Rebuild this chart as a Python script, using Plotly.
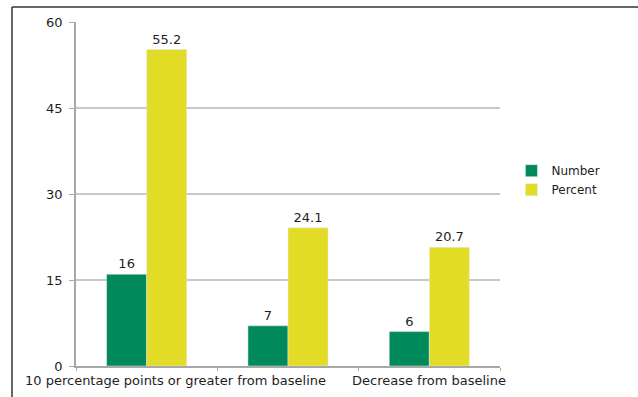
import plotly.graph_objects as go

# Outcome groups, series values and axis ticks
categories = ["10 percentage points or greater from baseline",
              "Less than 10 percentage points from baseline",
              "Decrease from baseline"]
axis_labels = ["10 percentage points or greater from baseline", "", "Decrease from baseline"]
number_vals = [16, 7, 6]
percent_vals = [55.2, 24.1, 20.7]
y_ticks = [0, 15, 30, 45, 60]

GREEN = "#00895A"
YELLOW = "#E3DC26"
FONT = "DejaVu Sans"
TEXT = "#1E1E1E"

fig = go.Figure()
fig.add_trace(go.Bar(
    name="Number", x=categories, y=number_vals, marker_color=GREEN,
    text=[str(v) for v in number_vals], textposition="outside",
    textfont=dict(family=FONT, size=13, color=TEXT), cliponaxis=False,
))
fig.add_trace(go.Bar(
    name="Percent", x=categories, y=percent_vals, marker_color=YELLOW,
    text=[f"{v:.1f}" for v in percent_vals], textposition="outside",
    textfont=dict(family=FONT, size=13, color=TEXT), cliponaxis=False,
))

# Category captions under the axis (first caption sits right of its group)
label_shift = [29, 0, 0]
for cat, lab, dx in zip(categories, axis_labels, label_shift):
    if lab:
        fig.add_annotation(
            x=cat, xref="x", y=0, yref="paper", yanchor="top", yshift=-5,
            xshift=dx, text=lab, showarrow=False,
            font=dict(family=FONT, size=13, color=TEXT),
        )

# Outer frame: left and top edges only
fig.add_shape(type="line", xref="paper", yref="paper",
              x0=-0.151, x1=-0.151, y0=1.0436, y1=-0.12,
              line=dict(color="#333333", width=1.5))
fig.add_shape(type="line", xref="paper", yref="paper",
              x0=-0.151, x1=1.4, y0=1.0436, y1=1.0436,
              line=dict(color="#333333", width=1.5))

fig.update_layout(
    width=638, height=397,
    margin=dict(l=76, r=138, t=22, b=31),
    paper_bgcolor="white", plot_bgcolor="white",
    barmode="group", bargap=0.433, bargroupgap=0,
    font=dict(family=FONT, size=13, color=TEXT),
    legend=dict(x=1.027, y=0.61, xanchor="left", yanchor="top",
                font=dict(family=FONT, size=12, color=TEXT),
                tracegroupgap=0, itemwidth=30),
    showlegend=True,
)
fig.update_xaxes(
    type="category", range=[-0.5, 2.5], showticklabels=False,
    showline=True, linecolor="#A8A8A8", linewidth=1.5,
    ticks="outside", tickson="boundaries", ticklen=3, tickcolor="#A8A8A8",
    showgrid=False, zeroline=False,
)
fig.update_yaxes(
    range=[0, 60], tickvals=y_ticks, ticks="outside", ticklen=5,
    tickcolor="#A8A8A8", showline=True, linecolor="#A8A8A8", linewidth=1.5,
    showgrid=True, gridcolor="#C8C8C8", gridwidth=1.5, zeroline=False,
    ticklabelstandoff=4,
    tickfont=dict(family=FONT, size=13, color=TEXT),
)

fig.write_html("out.html")
